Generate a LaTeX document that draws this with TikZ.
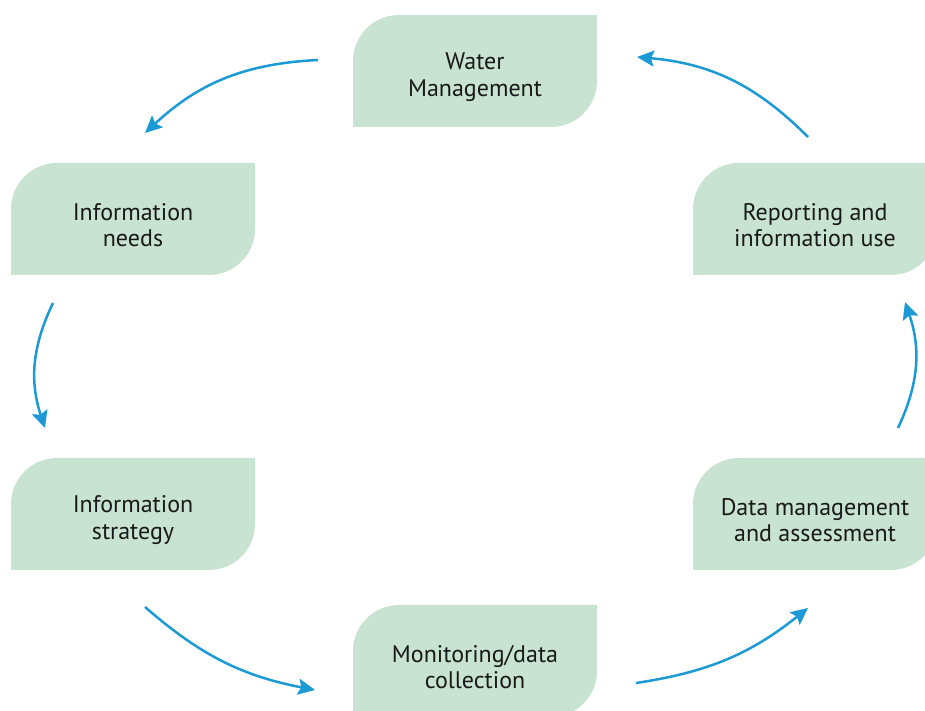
\documentclass[tikz,border=0pt]{standalone}
\usepackage{fontspec}
\setmainfont{PT Sans}
\usetikzlibrary{arrows.meta, backgrounds}

\definecolor{leafgreen}{HTML}{C8E3D1}
\definecolor{cycleblue}{HTML}{1C9AD6}

% leaf shaped fill behind a stage node (text sits a bit low in the leaf)
\newcommand{\leafbox}[1]{%
  \fill[leafgreen] (#1.center) ++(-122,-50) -- ++(0,66)
    arc[start angle=180, end angle=90, radius=46] -- ++(198,0)
    -- ++(0,-66)
    arc[start angle=0, end angle=-90, radius=46] -- cycle;}

\begin{document}
\begin{tikzpicture}
  [
    x = 1pt, y = 1pt,
    stage/.style = {rectangle, inner sep = 0pt, align = center,
      text = black!90, font = \fontsize{24}{26.5}\selectfont},
    cycle arrow/.style = {draw = cycleblue, line width = 2.5pt,
      -{Stealth[length = 17pt, width = 16pt, inset = 3pt]}}
  ]
  \useasboundingbox (0,0) rectangle (925,711);
  \node[stage] (water)      at (475,634) {Water\\Management};
  \node[stage] (needs)      at (133,486) {Information\\needs};
  \node[stage] (reporting)  at (815,486) {Reporting and\\information use};
  \node[stage] (strategy)   at (133,191) {Information\\strategy};
  \node[stage] (data)       at (815,191) {Data management\\and assessment};
  \node[stage] (monitoring) at (475,44)  {Monitoring/data\\collection};
  \begin{scope}[on background layer]
    \foreach \n in {water, needs, reporting, strategy, data, monitoring}
      {\leafbox{\n}}
  \end{scope}
  % free ends of the cycle arrows
  \coordinate (w-out) at (318,651);
  \coordinate (n-in)  at (145,578);
  \coordinate (n-out) at (53,408);
  \coordinate (s-in)  at (45,283);
  \coordinate (s-out) at (145,104);
  \coordinate (m-in)  at (315,21);
  \coordinate (m-out) at (636,28);
  \coordinate (d-in)  at (808,103);
  \coordinate (d-out) at (898,283);
  \coordinate (r-in)  at (905,409);
  \coordinate (r-out) at (808,574);
  \coordinate (w-in)  at (637,654);
  \draw[cycle arrow] (w-out) to[bend right=20] (n-in);
  \draw[cycle arrow] (n-out) to[bend right=22] (s-in);
  \draw[cycle arrow] (s-out) to[bend right=15] (m-in);
  \draw[cycle arrow] (m-out) to[bend right=15] (d-in);
  \draw[cycle arrow] (d-out) to[bend right=22] (r-in);
  \draw[cycle arrow] (r-out) to[bend right=20] (w-in);
\end{tikzpicture}
\end{document}
